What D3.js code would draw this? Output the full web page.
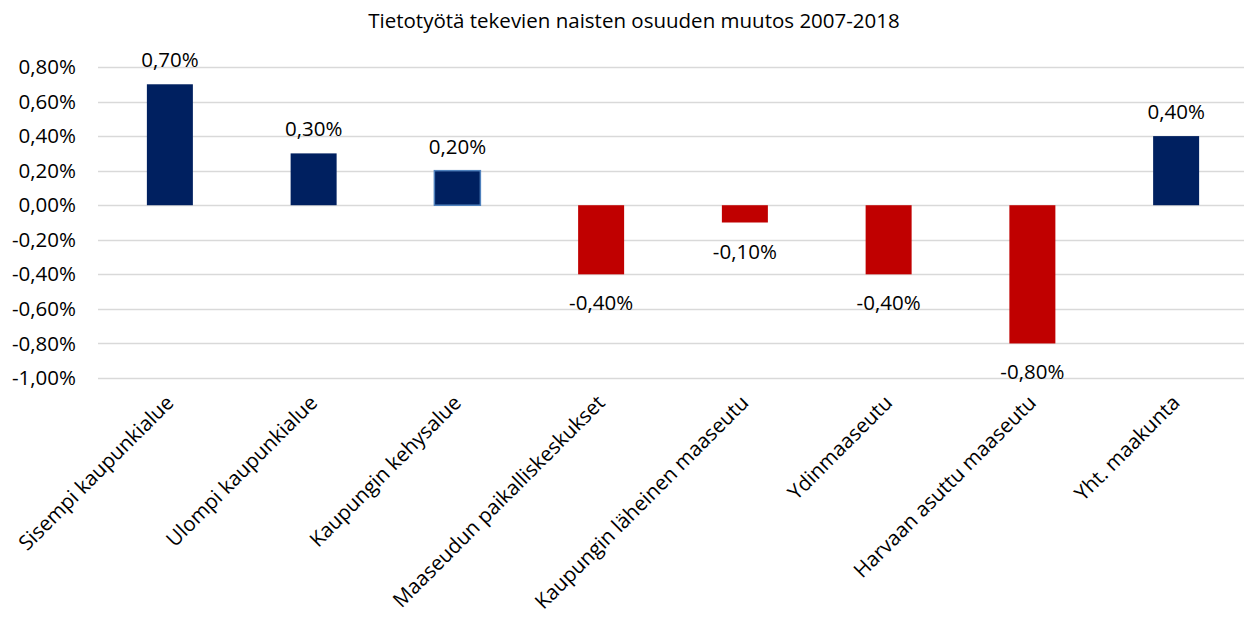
<!DOCTYPE html>
<html>
<head>
<meta charset="utf-8">
<script src="https://cdn.jsdelivr.net/npm/d3@7"></script>
<style>
  body { margin: 0; background: #fff; }
  text { font-family: "Open Sans", sans-serif; fill: #000; }
</style>
</head>
<body>
<svg id="chart" width="1244" height="619"></svg>
<script>
// data
const categories = ["Sisempi kaupunkialue", "Ulompi kaupunkialue", "Kaupungin kehysalue",
  "Maaseudun paikalliskeskukset", "Kaupungin läheinen maaseutu", "Ydinmaaseutu",
  "Harvaan asuttu maaseutu", "Yht. maakunta"];
const values = [0.7, 0.3, 0.2, -0.4, -0.1, -0.4, -0.8, 0.4];
const yTicks = [0.8, 0.6, 0.4, 0.2, 0, -0.2, -0.4, -0.6, -0.8, -1.0];
const chartTitle = "Tietotyötä tekevien naisten osuuden muutos 2007-2018";

var svg = d3.select("#chart");
const width = +svg.attr("width");
const height = +svg.attr("height");

// plot area
const plotLeft = 98, plotRight = 1248, plotTop = 67, plotBottom = 378;
const fontSize = "20.5px";

const fmt = (v) => v.toFixed(2).replace(".", ",") + "%";

var x = d3.scaleBand().domain(categories).range([plotLeft, plotRight]).paddingInner(0.68).paddingOuter(0.34);
var y = d3.scaleLinear().domain([-1.0, 0.8]).range([plotBottom, plotTop]);

// title
svg.append("text")
  .attr("x", 634).attr("y", 28)
  .attr("text-anchor", "middle")
  .style("font-size", "20.5px")
  .text(chartTitle);

// gridlines
svg.append("g").selectAll("line")
  .data(yTicks).enter().append("line")
  .attr("x1", plotLeft).attr("x2", width)
  .attr("y1", (d) => Math.round(y(d)) + 0.5).attr("y2", (d) => Math.round(y(d)) + 0.5)
  .style("stroke", "#d9d9d9").style("stroke-width", 1.3);

// y axis labels
var leftAxis = d3.axisLeft(y).tickValues(yTicks).tickFormat(fmt).tickSize(0).tickPadding(0);
var ax = svg.append("g").attr("transform", "translate(" + 76 + ",0)").call(leftAxis);
ax.select(".domain").remove();
ax.attr("font-family", null).attr("font-size", null);
ax.selectAll("text").style("font-size", fontSize);

// bars
svg.append("g").selectAll("rect")
  .data(values).enter().append("rect")
  .attr("x", (d, i) => x(categories[i]))
  .attr("width", x.bandwidth())
  .attr("y", (d) => y(Math.max(0, d)))
  .attr("height", (d) => Math.abs(y(d) - y(0)))
  .style("fill", (d) => d >= 0 ? "#002060" : "#C00000")
  .style("stroke", (d, i) => i == 2 ? "#4f81bd" : "none")
  .style("stroke-width", 1.5);

// value labels
svg.append("g").selectAll("text")
  .data(values).enter().append("text")
  .attr("x", (d, i) => x(categories[i]) + x.bandwidth() / 2)
  .attr("y", (d) => d >= 0 ? y(d) - 17 : y(d) + 36)
  .attr("text-anchor", "middle")
  .style("font-size", fontSize)
  .text((d) => fmt(d));

// category labels, rotated
svg.append("g").selectAll("text")
  .data(categories).enter().append("text")
  .attr("transform", (d) => "translate(" + (x(d) + x.bandwidth() / 2 + 5) + "," + 404 + ")rotate(-45)")
  .attr("text-anchor", "end")
  .style("font-size", fontSize)
  .text((d) => d);
</script>
</body>
</html>
